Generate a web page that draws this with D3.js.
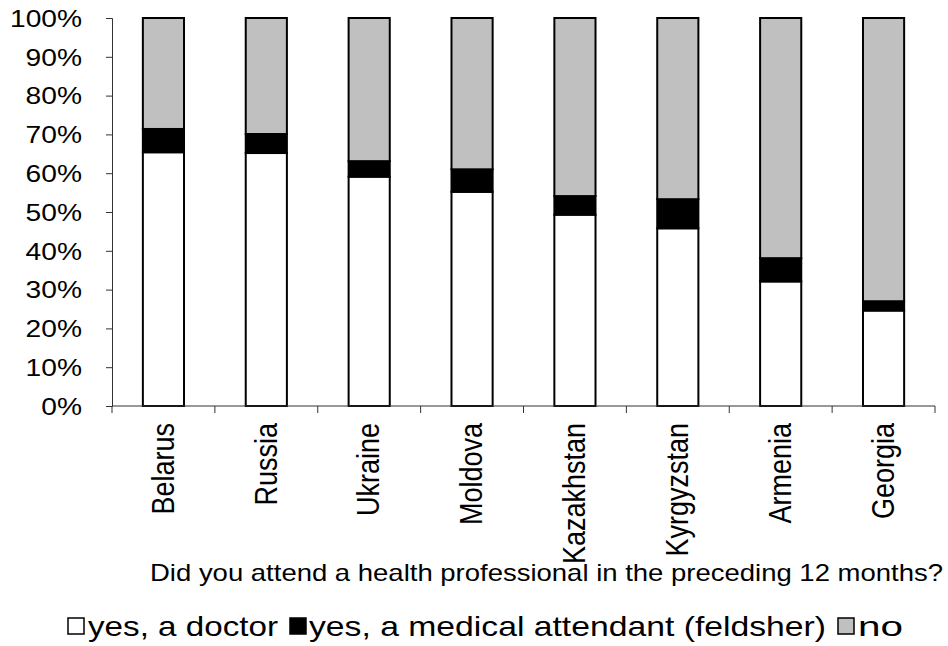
<!DOCTYPE html>
<html>
<head>
<meta charset="utf-8">
<script src="https://cdn.jsdelivr.net/npm/d3@7"></script>
<style>
  html, body { margin: 0; padding: 0; background: #fff; }
  text { font-family: "Liberation Sans", Arial, sans-serif; fill: #000; }
</style>
</head>
<body>
<svg id="chart" width="948" height="646"></svg>
<script>
// Share of respondents who saw a health professional in the last 12 months (%)
const countries = ["Belarus", "Russia", "Ukraine", "Moldova", "Kazakhstan", "Kyrgyzstan", "Armenia", "Georgia"];
const doctor    = [65.4, 65.2, 59.1, 55.2, 49.3, 45.8, 32.1, 24.6];
const feldsher  = [6.0, 4.9, 4.0, 5.8, 4.8, 7.5, 6.0, 2.4];
const noVisit   = doctor.map((d, i) => +(100 - d - feldsher[i]).toFixed(1));
const seriesNames  = ["yes, a doctor", "yes, a medical attendant (feldsher)", "no"];
const seriesColors = ["#ffffff", "#000000", "#c0c0c0"];
const yTicks = [0, 10, 20, 30, 40, 50, 60, 70, 80, 90, 100];
const xTitle = "Did you attend a health professional in the preceding 12 months?";

const svg = d3.select("#chart");
const plot = { left: 112, right: 935, top: 18, bottom: 406 };
const sx = 1.15; // horizontal text stretch

const x = d3.scaleBand().domain(countries)
  .range([plot.left, plot.right]).paddingInner(0.6).paddingOuter(0.3);
const y = d3.scaleLinear().domain([0, 100]).range([plot.bottom, plot.top]);

const rows = countries.map((c, i) => ({ country: c, doctor: doctor[i], feldsher: feldsher[i], no: noVisit[i] }));
const stack = d3.stack().keys(["doctor", "feldsher", "no"])(rows);

// Stacked bars
svg.append("g").selectAll("g").data(stack).join("g")
  .attr("fill", (d, i) => seriesColors[i])
  .selectAll("rect").data(d => d).join("rect")
  .attr("x", d => x(d.data.country))
  .attr("width", x.bandwidth())
  .attr("y", d => y(d[1]))
  .attr("height", d => y(d[0]) - y(d[1]))
  .attr("stroke", "#000").attr("stroke-width", 2);

// Y axis
const yAxis = svg.append("g").attr("transform", `translate(${plot.left},0)`)
  .call(d3.axisLeft(y).tickValues(yTicks).tickSize(6).tickFormat(""));
yAxis.select(".domain").attr("stroke", "#333").attr("stroke-width", 1);
yAxis.selectAll(".tick line").attr("stroke", "#333");
svg.append("g").selectAll("text").data(yTicks).join("text")
  .attr("transform", d => `translate(82,${y(d)}) scale(${sx},1)`)
  .attr("text-anchor", "end").attr("dy", "0.36em")
  .style("font-size", "24.5px")
  .text(d => d + "%");

// X axis with boundary ticks
const xAxis = svg.append("g");
xAxis.append("line")
  .attr("x1", plot.left).attr("x2", plot.right)
  .attr("y1", plot.bottom).attr("y2", plot.bottom)
  .attr("stroke", "#333");
const step = x.step();
const bounds = d3.range(countries.length + 1).map(i => plot.left + i * step);
xAxis.selectAll(".xt").data(bounds).join("line").attr("class", "xt")
  .attr("x1", d => d).attr("x2", d => d)
  .attr("y1", plot.bottom).attr("y2", plot.bottom + 7)
  .attr("stroke", "#333");
xAxis.selectAll("text").data(countries).join("text")
  .attr("transform", d => `translate(${x(d) + x.bandwidth() / 2 - 1},423) scale(${sx},1) rotate(-90)`)
  .attr("text-anchor", "end").attr("dy", "0.36em")
  .style("font-size", "27px")
  .text(d => d);

// Axis title
svg.append("text")
  .attr("x", 150).attr("y", 581)
  .attr("textLength", 793).attr("lengthAdjust", "spacingAndGlyphs")
  .style("font-size", "24px")
  .text(xTitle);

// Legend
const legendBox  = [68, 290, 838];
const legendText = [[88, 190], [309, 517], [858, 45]];
const legend = svg.append("g").selectAll("g").data(seriesNames).join("g");
legend.append("rect")
  .attr("x", (d, i) => legendBox[i]).attr("y", 618).attr("width", 16).attr("height", 16)
  .attr("fill", (d, i) => seriesColors[i]).attr("stroke", "#000").attr("stroke-width", 1.5);
legend.append("text")
  .attr("x", (d, i) => legendText[i][0]).attr("y", 636)
  .attr("textLength", (d, i) => legendText[i][1]).attr("lengthAdjust", "spacingAndGlyphs")
  .style("font-size", "28.5px")
  .text(d => d);
</script>
</body>
</html>
